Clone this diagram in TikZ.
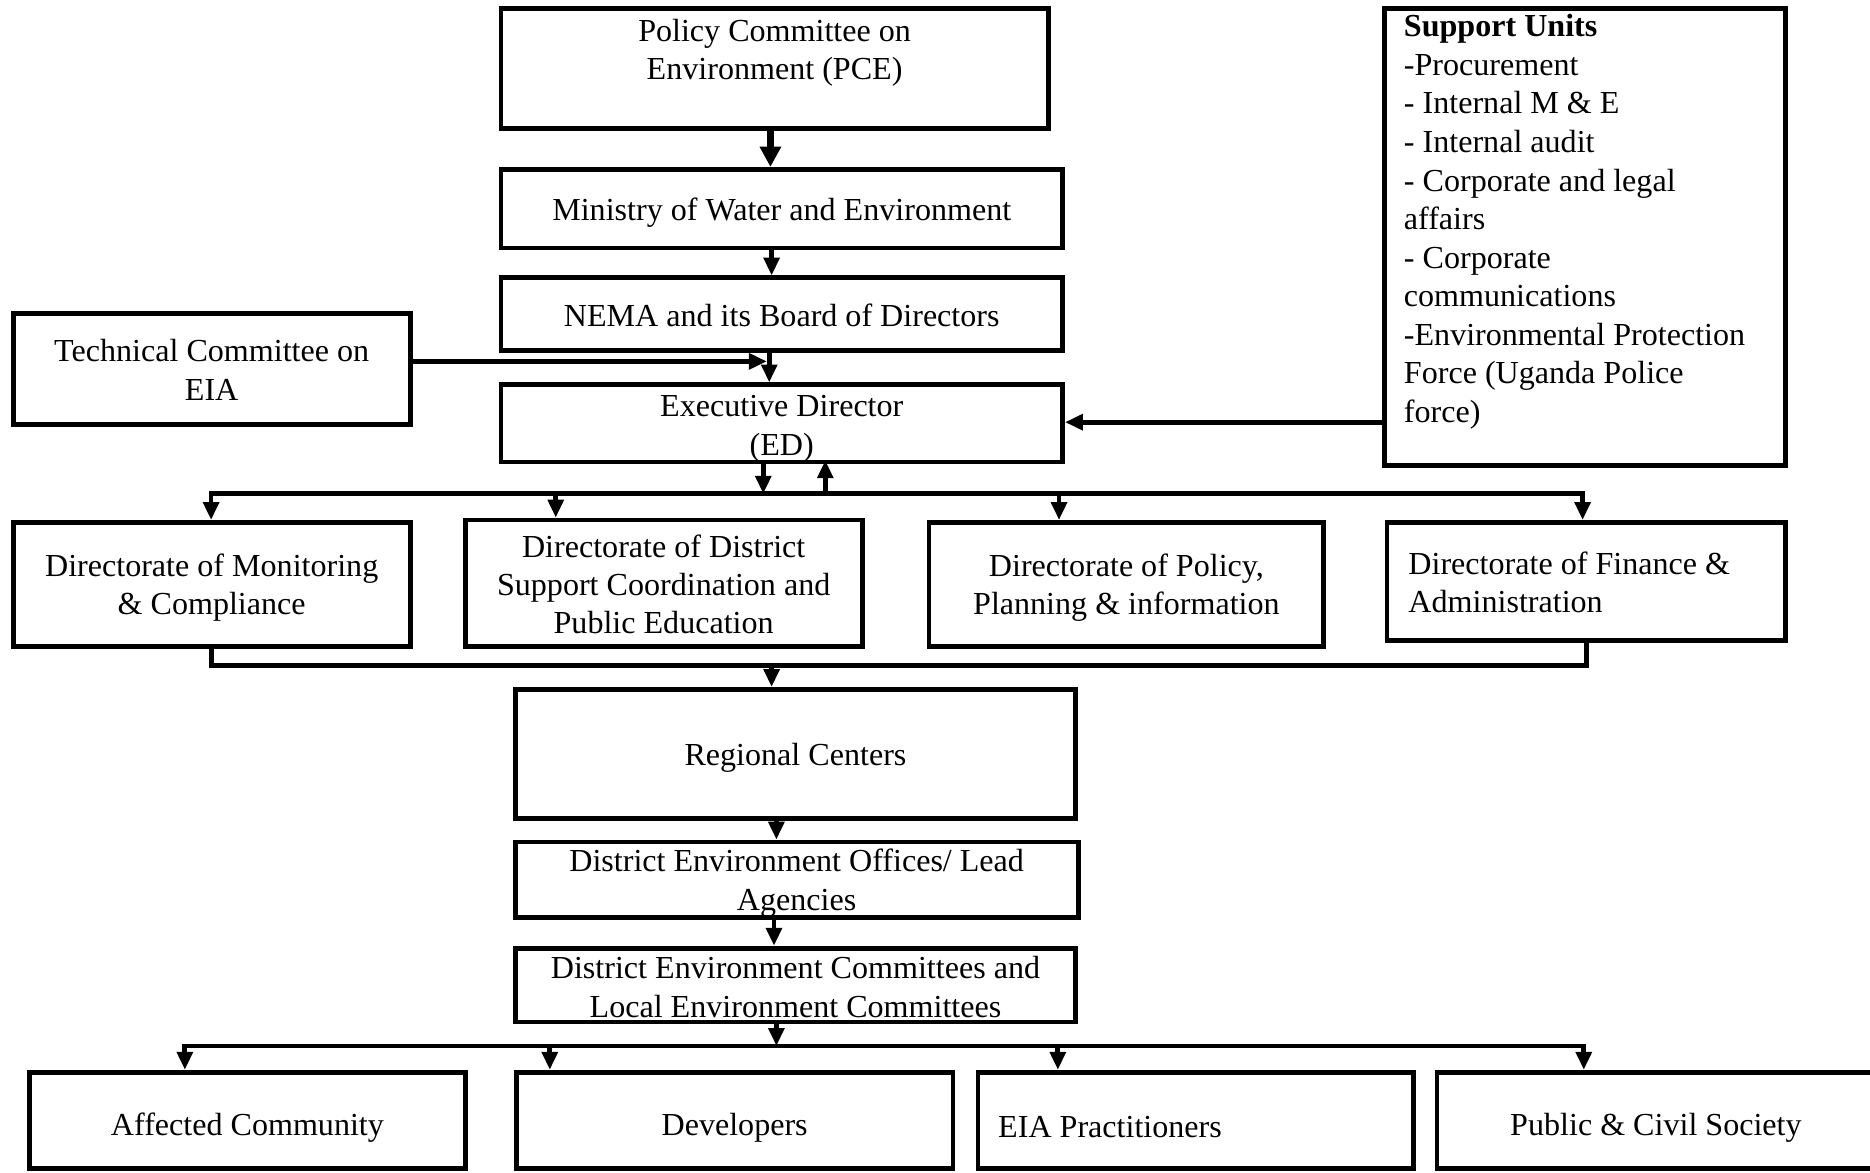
\documentclass[tikz,border=0pt]{standalone}
\usepackage{fontspec}
\setmainfont{Liberation Serif}
\usetikzlibrary{arrows.meta,calc}
\newcommand{\fsz}{\fontsize{26.9}{32}\selectfont}
\newcommand{\fszs}{\fontsize{26.9}{32.3}\selectfont}
\newcommand{\bx}[8]{\node[box,#6,minimum width={#4-#2},minimum height={#5-#3}] (#1) at ({(#2+#4)/2},{(#3+#5)/2}) {\rule{0pt}{#8}#7};}
\begin{document}
\begin{tikzpicture}[x=1pt,y=-1pt,
  box/.style={draw,line width=4pt,rectangle,inner sep=0pt,align=center,font=\fsz},
  txt/.style={inner sep=0pt,font=\fsz},
  conn/.style={line width=4pt,line cap=rect,line join=miter},
  arr/.style={line width=4pt,-{Triangle[length=15pt,width=13pt]}},
  bigarr/.style={line width=6pt,-{Triangle[length=17pt,width=17pt]}}]
\useasboundingbox (0,0) rectangle (1568,983);
% boxes
\bx{pce}{420}{7}{879}{108}{}{}{0pt}
\node[txt,align=center] (pcet) at ($(pce.north)+(0,39)$) {Policy Committee on\\Environment (PCE)};
\bx{min}{420}{142}{891}{208}{}{Ministry of Water and Environment}{25pt}
\bx{nema}{420}{233}{891}{294}{}{NEMA and its Board of Directors}{20pt}
\bx{tc}{11}{263}{344}{356}{}{Technical Committee on\\EIA}{20pt}
\bx{ed}{420}{324}{891}{386}{}{Executive Director\\(ED)}{27pt}
\bx{sup}{1161}{7}{1497}{390}{}{}{0pt}
\node[txt,font=\fszs,align=flush left,anchor=west] (supt) at (1177,186) {\textbf{Support Units}\\-Procurement\\- Internal M \& E\\- Internal audit\\- Corporate and legal\\affairs\\- Corporate\\communications\\-Environmental Protection\\Force (Uganda Police\\force)};
\bx{d1}{11}{438}{344}{542}{}{Directorate of Monitoring\\\& Compliance}{25pt}
\bx{d2}{390}{436}{723}{542}{}{Directorate of District\\Support Coordination and\\Public Education}{21pt}
\bx{d3}{779}{438}{1110}{542}{}{Directorate of Policy,\\Planning \& information}{25pt}
\bx{d4}{1163}{438}{1497}{537}{align=flush left,inner xsep=18pt,text width=298pt}{Directorate of Finance \&\\Administration}{20pt}
\bx{reg}{432}{578}{902}{686}{}{Regional Centers}{25pt}
\bx{deo}{432}{706}{904}{769}{}{District Environment Offices/ Lead\\Agencies}{25pt}
\bx{dec}{432}{795}{902}{857}{}{District Environment Committees and\\Local Environment Committees}{22pt}
\bx{b1}{25}{899}{390}{980}{}{Affected Community}{31pt}
\bx{b2}{433}{899}{799}{980}{}{Developers}{31pt}
\bx{b3}{820}{899}{1185}{980}{align=flush left,inner xsep=17pt,text width=331pt}{EIA Practitioners}{29pt}
\bx{b4}{1205}{899}{1572}{980}{}{Public \& Civil Society}{31pt}
% junction coordinates
\coordinate (c1) at (646,108);
\coordinate (c2) at (647,208);
\coordinate (c3) at (645,294);
\coordinate (tcj) at (643,303);
\coordinate (supj) at (1161,354);
\coordinate (edd) at (640,386);
\coordinate (edu) at (692,386);
\coordinate (busA1) at (177,414);
\coordinate (busA2) at (466,414);
\coordinate (busA3) at (888,414);
\coordinate (busA4) at (1327,414);
\coordinate (busB) at (647,558);
\coordinate (c4) at (651,686);
\coordinate (c5) at (649,769);
\coordinate (c6) at (651,857);
\coordinate (busC1) at (155,877);
\coordinate (busC2) at (461,877);
\coordinate (busC3) at (887,877);
\coordinate (busC4) at (1328,877);
% connectors
\draw[bigarr] (c1) -- (c1 |- min.north);
\draw[arr] (c2) -- (c2 |- nema.north);
\draw[arr] (c3) -- (c3 |- ed.north);
\draw[arr] (tc.east |- tcj) -- (tcj);
\draw[arr] (supj) -- (ed.east |- supj);
\draw[conn] (busA1) -- (busA4);
\draw[arr] (edd) -- (edd |- busA1);
\draw[arr] (edu |- busA1) -- (edu);
\draw[arr] (busA1) -- (busA1 |- d1.north);
\draw[arr] (busA2) -- (busA2 |- d2.north);
\draw[arr] (busA3) -- (busA3 |- d3.north);
\draw[arr] (busA4) -- (busA4 |- d4.north);
\draw[conn] (d1.south) -- (d1.south |- busB) -- (d4.south |- busB) -- (d4.south);
\draw[arr] (busB) -- (busB |- reg.north);
\draw[arr] (c4) -- (c4 |- deo.north);
\draw[arr] (c5) -- (c5 |- dec.north);
\draw[arr] (c6) -- (c6 |- busC1);
\draw[conn] (busC1) -- (busC4);
\draw[arr] (busC1) -- (busC1 |- b1.north);
\draw[arr] (busC2) -- (busC2 |- b2.north);
\draw[arr] (busC3) -- (busC3 |- b3.north);
\draw[arr] (busC4) -- (busC4 |- b4.north);
\end{tikzpicture}
\end{document}
